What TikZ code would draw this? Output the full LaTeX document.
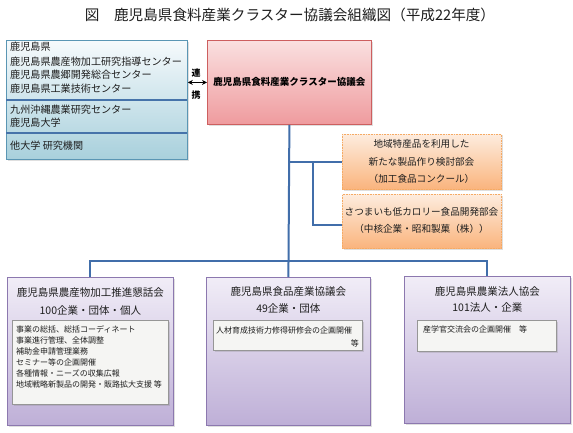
\documentclass[tikz,border=0pt]{standalone}
\usepackage{fontspec}
\setmainfont{Noto Sans CJK JP}
\usetikzlibrary{shadows,arrows.meta}
\definecolor{lftop}{RGB}{246,250,252}
\definecolor{lfbot}{RGB}{168,208,220}
\definecolor{lfbd}{RGB}{90,150,180}
\definecolor{divb}{RGB}{70,115,170}
\definecolor{conb}{RGB}{65,110,170}
\definecolor{mntop}{RGB}{250,224,224}
\definecolor{mnbot}{RGB}{239,155,158}
\definecolor{mnbd}{RGB}{205,95,95}
\definecolor{ortop}{RGB}{253,236,222}
\definecolor{orbot}{RGB}{250,180,125}
\definecolor{orbd}{RGB}{245,170,100}
\definecolor{pptop}{RGB}{241,237,247}
\definecolor{ppbot}{RGB}{190,175,215}
\definecolor{ppbd}{RGB}{140,120,175}
\definecolor{infill}{RGB}{245,245,243}
\definecolor{inbd}{RGB}{150,150,150}
\definecolor{txt}{RGB}{30,30,30}
\tikzset{
  x=1pt,y=1pt,
  box/.style={anchor=north west, inner sep=0pt, draw, drop shadow={shadow xshift=1.2pt,shadow yshift=-1.2pt,opacity=0.25}},
  leftbox/.style={box, top color=lftop, bottom color=lfbot, draw=lfbd, line width=0.8pt},
  mainbox/.style={box, top color=mntop, bottom color=mnbot, draw=mnbd, line width=0.8pt},
  orbox/.style={box, top color=ortop, bottom color=orbot, draw=orbd, line width=0.6pt, densely dotted},
  ppbox/.style={box, top color=pptop, bottom color=ppbot, draw=ppbd, line width=0.8pt},
  inbox/.style={box, fill=infill, draw=inbd, line width=0.6pt},
  ltext/.style={anchor=west, inner sep=0pt, font=\fontsize{10.1}{12}\selectfont, text=txt},
  ctext/.style={inner sep=0pt, font=\fontsize{9.6}{12}\selectfont, text=txt},
  btitle/.style={inner sep=0pt, font=\fontsize{10.5}{12}\selectfont, text=txt},
  itext/.style={anchor=west, inner sep=0pt, font=\fontsize{8}{10}\selectfont, text=txt},
  conn/.style={draw=conb, line width=2pt},
  divline/.style={draw=divb, line width=1.5pt},
}
\begin{document}
\begin{tikzpicture}
\useasboundingbox[fill=white] (0,0) rectangle (573,-433);
% title
\node[inner sep=0pt, font=\fontsize{14.6}{16}\selectfont, text=txt] (title) at (290,-15) {図　鹿児島県食料産業クラスター協議会組織図（平成22年度）};
% left box
\node[leftbox, minimum width=181, minimum height=119] (left) at (6,-40) {};
\draw[divline] (6.4,-100) coordinate (d1a) -- (186.6,-100) coordinate (d1b);
\draw[divline] (6.4,-133) coordinate (d2a) -- (186.6,-133) coordinate (d2b);
\node[ltext] (l1) at (10,-47) {鹿児島県};
\node[ltext] (l2) at (10,-61.5) {鹿児島県農産物加工研究指導センター};
\node[ltext] (l3) at (10,-75) {鹿児島県農郷開発総合センター};
\node[ltext] (l4) at (10,-89) {鹿児島県工業技術センター};
\node[ltext] (l5) at (10,-110) {九州沖縄農業研究センター};
\node[ltext] (l6) at (10,-123) {鹿児島大学};
\node[ltext] (l7) at (10,-146) {他大学 研究機関};
% main box
\node[mainbox, minimum width=164, minimum height=84] (main) at (207,-40) {};
\node[inner sep=0pt, font=\fontsize{9.5}{11}\selectfont\bfseries, text=black] (maint) at (main.center) {鹿児島県食料産業クラスター協議会};
% renkei
\draw[{Stealth[length=5pt,width=5pt]}-{Stealth[length=5pt,width=5pt]}, line width=1.4pt, black] (left.east |- main.west) -- (main.west);
\node[inner sep=0pt, font=\fontsize{9}{10}\selectfont\bfseries, text=black] (ren) at (196,-73) {連};
\node[inner sep=0pt, font=\fontsize{9}{10}\selectfont\bfseries, text=black] (kei) at (196,-95) {携};
% orange boxes
\node[orbox, minimum width=159, minimum height=55] (ob1) at (342,-134) {};
\node[ctext] (o1a) at (421.5,-144) {地域特産品を利用した};
\node[ctext] (o1b) at (421.5,-161.5) {新たな製品作り検討部会};
\node[ctext] (o1c) at (421.5,-179) {（加工食品コンクール）};
\node[orbox, minimum width=159, minimum height=54] (ob2) at (342,-194) {};
\node[ctext] (o2a) at (421.5,-212) {さつまいも低カロリー食品開発部会};
\node[ctext] (o2b) at (421.5,-229) {（中核企業・昭和製菓（株））};
% bottom boxes
\node[ppbox, minimum width=166, minimum height=148] (agri) at (7,-277) {};
\node[ppbox, minimum width=164, minimum height=148] (food) at (206,-277) {};
\node[ppbox, minimum width=166, minimum height=147] (corp) at (404,-276) {};
\node[btitle] (at1) at (agri.north |- 0,-293) {鹿児島県農産物加工推進懇話会};
\node[btitle] (at2) at (agri.north |- 0,-310) {100企業・団体・個人};
\node[btitle] (ft1) at (food.north |- 0,-292) {鹿児島県食品産業協議会};
\node[btitle] (ft2) at (food.north |- 0,-308) {49企業・団体};
\node[btitle] (ct1) at (corp.north |- 0,-292) {鹿児島県農業法人協会};
\node[btitle] (ct2) at (corp.north |- 0,-308) {101法人・企業};
% inner boxes
\node[inbox, minimum width=156, minimum height=84] (ai) at (12,-320) {};
\node[itext] (ai1) at (16,-329) {事業の総括、総括コーディネート};
\node[itext] (ai2) at (16,-340) {事業進行管理、全体調整};
\node[itext] (ai3) at (16,-351) {補助金申請管理業務};
\node[itext] (ai4) at (16,-362) {セミナー等の企画開催};
\node[itext] (ai5) at (16,-373) {各種情報・ニーズの収集広報};
\node[itext] (ai6) at (16,-384) {地域戦略新製品の開発・販路拡大支援 等};
\node[inbox, minimum width=149, minimum height=30] (fi) at (213,-320) {};
\node[itext] (fi1) at (216,-330) {人材育成技術力修得研修会の企画開催};
\node[itext, anchor=east] (fi2) at (359,-343) {等};
\node[inbox, minimum width=139, minimum height=31] (ci) at (417,-320) {};
\node[itext] (ci1) at (423,-329) {産学官交流会の企画開催　等};
% connectors
\coordinate (hbar) at (0,-261);
\coordinate (jx) at (313,0);
\draw[conn] (main.south) -- (food.north);
\draw[conn] (agri.north) -- (agri.north |- hbar) -- (corp.north |- hbar) -- (corp.north);
\draw[conn] (main.south |- ob1.west) -- (ob1.west);
\draw[conn] (jx |- ob1.west) |- ([yshift=-4]ob2.west);
\end{tikzpicture}
\end{document}
